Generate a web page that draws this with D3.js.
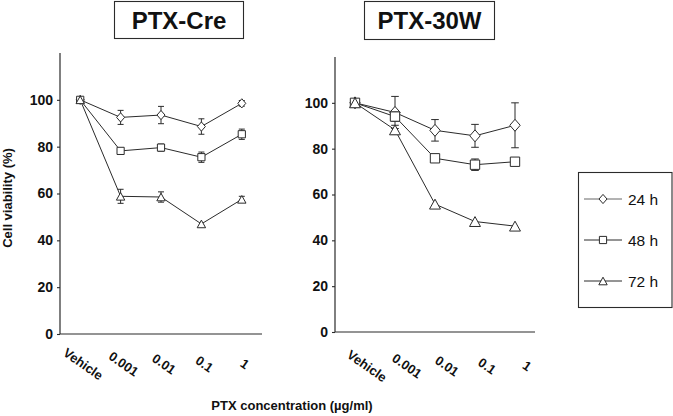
<!DOCTYPE html>
<html><head><meta charset="utf-8">
<script src="https://cdn.jsdelivr.net/npm/d3@7"></script>
<style>
body{margin:0;background:#fff}
svg{display:block}
text{font-family:"Liberation Sans",Arial,Helvetica,sans-serif}
</style>
</head><body>
<svg id="chart" width="673" height="416"></svg>
<script>
// ---------- data ----------
const categories = ["Vehicle", "0.001", "0.01", "0.1", "1"];
const yTickValues = [0, 20, 40, 60, 80, 100];
const seriesNames = ["24 h", "48 h", "72 h"];
const seriesShapes = ["diamond", "square", "triangle"];
const panelTitles = ["PTX-Cre", "PTX-30W"];
const yAxisTitle = "Cell viability (%)";
const xAxisTitle = "PTX concentration (µg/ml)";

// PTX-Cre
const cre24 = [100, 92.5, 93.5, 88.6, 98.5];
const cre24Err = [0.8, 3.0, 3.7, 3.3, 1.2];
const cre48 = [100, 78.2, 79.6, 75.5, 85.3];
const cre48Err = [0.5, 1.0, 1.5, 2.2, 2.2];
const cre72 = [100, 58.8, 58.5, 47.0, 57.5];
const cre72Err = [0.5, 3.0, 2.2, 1.0, 1.3];

// PTX-30W
const w30_24 = [100, 95.8, 88.0, 85.6, 90.2];
const w30_24Err = [0.8, 7.0, 4.7, 5.0, 9.8];
const w30_48 = [100, 94.0, 75.8, 73.0, 74.3];
const w30_48Err = [0.5, 2.0, 1.5, 2.5, 1.5];
const w30_72 = [100, 88.2, 55.8, 48.2, 46.2];
const w30_72Err = [0.5, 2.0, 1.0, 1.0, 1.0];

// ---------- layout ----------
const panels = [
  { title: panelTitles[0], means: [cre24, cre48, cre72], errs: [cre24Err, cre48Err, cre72Err],
    x0: 60, x1: 262, yBottom: 334, yTop: 53, labelDx: 3, labelY: 364, mk: 1.0, cap: 3,
    box: { x: 114, y: 1, w: 129, h: 37 } },
  { title: panelTitles[1], means: [w30_24, w30_48, w30_72], errs: [w30_24Err, w30_48Err, w30_72Err],
    x0: 335, x1: 535, yBottom: 332, yTop: 57, labelDx: 12, labelY: 366, mk: 1.3, cap: 3.8,
    box: { x: 364, y: 1, w: 130, h: 38 } }
];

const ink = "#2b2b2b";
const svg = d3.select("#chart");

function shapePath(shape, k) {
  if (shape === "diamond") {
    const w = 4 * k, h = 4.6 * k;
    return `M0,${-h}L${w},0L0,${h}L${-w},0Z`;
  }
  if (shape === "square") {
    const s = 3.6 * k;
    return `M${-s},${-s}H${s}V${s}H${-s}Z`;
  }
  const w = 4.2 * k, h = 3.8 * k;
  return `M0,${-h}L${w},${h}L${-w},${h}Z`;
}

panels.forEach(p => {
  const g = svg.append("g");
  const x = d3.scaleBand().domain(categories).range([p.x0, p.x1]).padding(0);
  const cx = d => x(d) + x.bandwidth() / 2;
  const y = d3.scaleLinear().domain([0, 120]).range([p.yBottom, p.yTop]);

  // title box
  g.append("rect").attr("x", p.box.x + 0.5).attr("y", p.box.y + 0.5)
    .attr("width", p.box.w).attr("height", p.box.h)
    .attr("fill", "none").attr("stroke", ink).attr("stroke-width", 1.1);
  g.append("text").attr("x", p.box.x + p.box.w / 2 + 0.5).attr("y", p.box.y + 27.5)
    .attr("text-anchor", "middle").attr("font-size", 24).attr("font-weight", "bold")
    .attr("fill", "#111").text(p.title);

  // y axis
  const yAxis = d3.axisLeft(y).tickValues(yTickValues).tickSize(3).tickPadding(4).tickFormat(d3.format("d"));
  const ya = g.append("g").attr("transform", `translate(${p.x0},0)`).call(yAxis);
  ya.select(".domain").remove();
  ya.selectAll(".tick line").attr("stroke", ink).attr("stroke-width", 1.1);
  ya.selectAll(".tick text").attr("font-size", 14).attr("font-weight", "bold").attr("fill", "#111")
    .attr("font-family", '"Liberation Sans",Arial,sans-serif');
  g.append("line").attr("x1", p.x0).attr("x2", p.x0).attr("y1", y(0)).attr("y2", y(120))
    .attr("stroke", ink).attr("stroke-width", 1.2);

  // x axis
  g.append("line").attr("x1", p.x0).attr("x2", p.x1).attr("y1", y(0)).attr("y2", y(0))
    .attr("stroke", ink).attr("stroke-width", 1.2);
  g.selectAll("text.xl").data(categories).enter().append("text").attr("class", "xl")
    .attr("transform", d => `translate(${cx(d) + p.labelDx},${p.labelY}) rotate(35)`)
    .attr("text-anchor", "middle").attr("dominant-baseline", "central")
    .attr("font-size", 13).attr("font-weight", "bold").attr("fill", "#111").text(d => d);

  // series
  const line = d3.line().x((d, i) => cx(categories[i])).y(d => y(d));
  p.means.forEach((vals, si) => {
    const errs = p.errs[si];
    const sg = g.append("g");
    vals.forEach((v, i) => {
      const xx = cx(categories[i]);
      const e = errs[i];
      if (e < 1.2) return;
      sg.append("line").attr("x1", xx).attr("x2", xx).attr("y1", y(v - e)).attr("y2", y(v + e))
        .attr("stroke", ink).attr("stroke-width", 1);
      [v - e, v + e].forEach(t => sg.append("line").attr("x1", xx - p.cap).attr("x2", xx + p.cap)
        .attr("y1", y(t)).attr("y2", y(t)).attr("stroke", ink).attr("stroke-width", 1));
    });
    sg.append("path").datum(vals).attr("d", line).attr("fill", "none")
      .attr("stroke", ink).attr("stroke-width", 1);
    sg.selectAll("path.mk").data(vals).enter().append("path").attr("class", "mk")
      .attr("transform", (d, i) => `translate(${cx(categories[i])},${y(d)})`)
      .attr("d", shapePath(seriesShapes[si], p.mk))
      .attr("fill", "#fff").attr("stroke", ink).attr("stroke-width", 1);
  });
});

// y axis title
svg.append("text").attr("transform", "translate(12,198) rotate(-90)")
  .attr("text-anchor", "middle").attr("font-size", 13).attr("font-weight", "bold")
  .attr("fill", "#111").text(yAxisTitle);

// x axis title
svg.append("text").attr("x", 292).attr("y", 410).attr("text-anchor", "middle")
  .attr("font-size", 13).attr("font-weight", "bold").attr("fill", "#111").text(xAxisTitle);

// legend
const lg = svg.append("g");
lg.append("rect").attr("x", 578.5).attr("y", 172.5).attr("width", 93.5).attr("height", 135)
  .attr("fill", "#fff").attr("stroke", ink).attr("stroke-width", 1.1);
const legendY = d3.scalePoint().domain(seriesNames).range([199, 281]);
seriesNames.forEach((name, i) => {
  const yy = legendY(name);
  lg.append("line").attr("x1", 584).attr("x2", 622).attr("y1", yy).attr("y2", yy)
    .attr("stroke", i === 0 ? "#666" : ink).attr("stroke-width", 1);
  lg.append("path").attr("transform", `translate(603,${yy})`).attr("d", shapePath(seriesShapes[i], 1))
    .attr("fill", "#fff").attr("stroke", ink).attr("stroke-width", 1);
  lg.append("text").attr("x", 628).attr("y", yy + 6).attr("font-size", 15.5).attr("fill", "#111").text(name);
});
</script>
</body></html>
